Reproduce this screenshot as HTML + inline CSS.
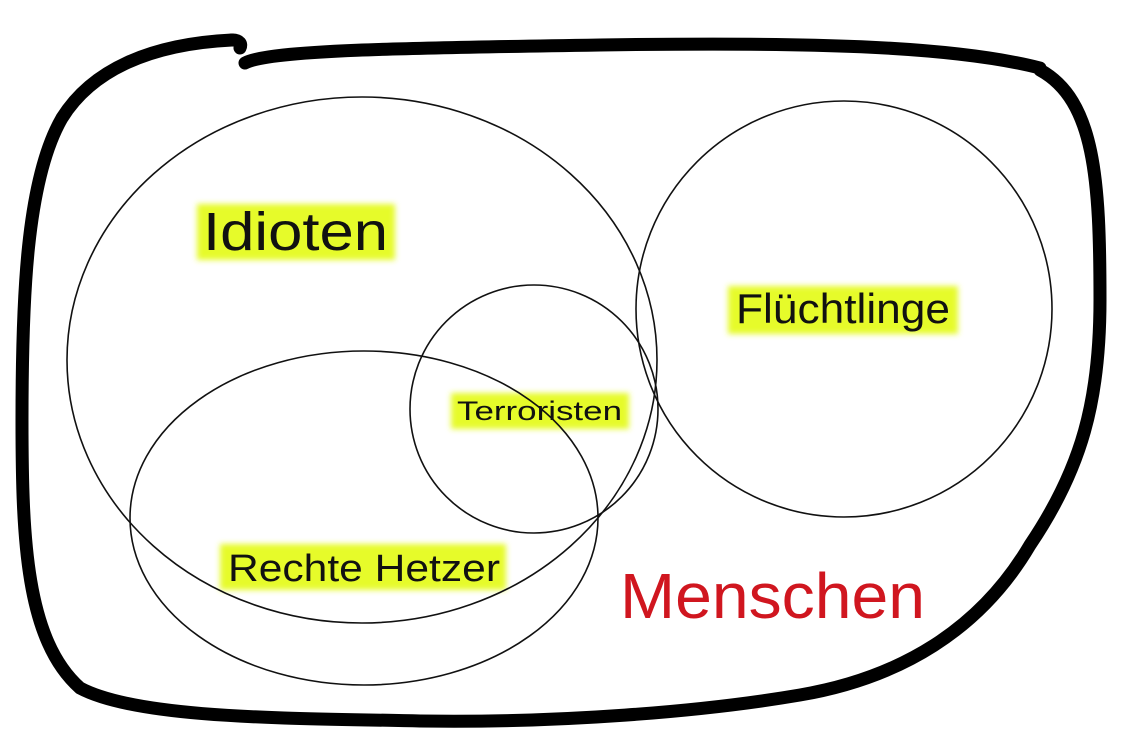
<!DOCTYPE html>
<html><head><meta charset="utf-8"><style>
html,body{margin:0;padding:0;background:#fff;}
svg{display:block;}
text{font-family:"Liberation Sans",sans-serif;}
</style></head><body>
<svg width="1125" height="750" viewBox="0 0 1125 750" xmlns="http://www.w3.org/2000/svg">
<defs>
<filter id="b" x="-20%" y="-40%" width="140%" height="180%"><feGaussianBlur stdDeviation="3"/></filter>
</defs>
<rect width="1125" height="750" fill="#fff"/>
<!-- outer blob -->
<g fill="none" stroke="#000" stroke-width="13" stroke-linecap="round" stroke-linejoin="round">
<path d="M232 40 C150 44 92 70 62 118 C26 180 22 300 22 420 C22 540 26 640 80 688 C140 720 300 718 420 721 C560 723 700 712 800 695 C900 678 980 630 1030 545 C1082 468 1100 400 1100 300 C1100 180 1095 100 1040 70"/>
<path d="M245 63 C270 50 400 48 600 45 C800 42 950 45 1040 68"/>
<path d="M232 40 C240 40 242 44 240 48"/>
</g>
<!-- highlights -->
<g fill="#e6fb2a" filter="url(#b)">
<rect x="197" y="204" width="198" height="56"/>
<rect x="728" y="286" width="230" height="48"/>
<rect x="451" y="393" width="178" height="36"/>
<rect x="220" y="544" width="286" height="46"/>
</g>
<!-- circles -->
<g fill="none" stroke="#111" stroke-width="1.6">
<ellipse cx="362" cy="360" rx="295" ry="263"/>
<circle cx="844" cy="309" r="208"/>
<circle cx="534" cy="409" r="124"/>
<ellipse cx="364" cy="518" rx="234" ry="167"/>
</g>
<!-- labels -->
<text x="203" y="250" font-size="54" textLength="185" lengthAdjust="spacingAndGlyphs" fill="#111">Idioten</text>
<text x="736" y="323" font-size="42" textLength="214" lengthAdjust="spacingAndGlyphs" fill="#111">Flüchtlinge</text>
<text x="457" y="420" font-size="27" textLength="165" lengthAdjust="spacingAndGlyphs" fill="#111">Terroristen</text>
<text x="228" y="581" font-size="38" textLength="272" lengthAdjust="spacingAndGlyphs" fill="#111">Rechte Hetzer</text>
<text x="620" y="618" font-size="64" textLength="305" lengthAdjust="spacingAndGlyphs" fill="#d0161f">Menschen</text>
</svg>
</body></html>
